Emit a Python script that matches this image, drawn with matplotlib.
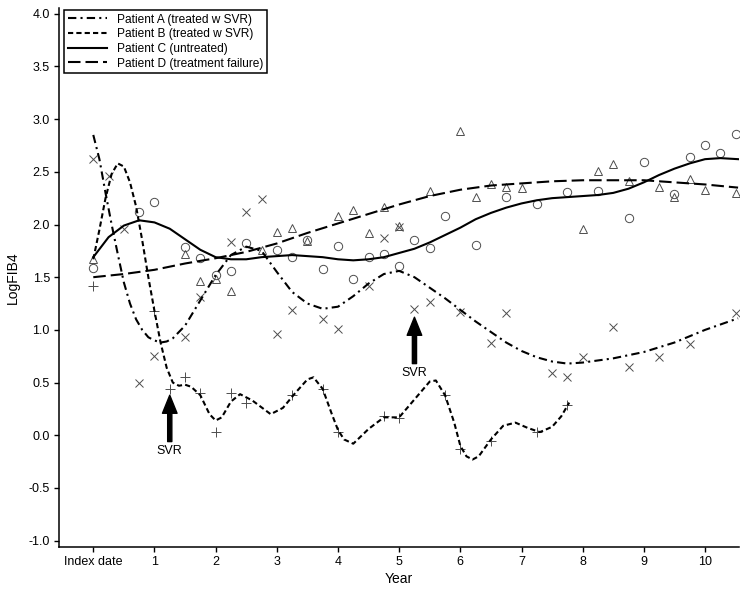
import matplotlib
matplotlib.use("Agg")
import matplotlib.pyplot as plt

plt.rcParams["font.family"] = ["Liberation Sans", "DejaVu Sans"]

# observed LogFIB4 values (markers)
a_years = [0, 0.25, 0.5, 0.75, 1.0, 1.5, 1.75, 2.25, 2.5, 2.75, 3.0, 3.25, 3.75, 4.0,
           4.5, 4.75, 5.0, 5.25, 5.5, 6.0, 6.5, 6.75, 7.5, 7.75, 8.0, 8.5, 8.75,
           9.25, 9.75, 10.5]
a_values = [2.62, 2.46, 1.96, 0.50, 0.75, 0.93, 1.31, 1.83, 2.12, 2.24, 0.96, 1.19, 1.10,
            1.01, 1.42, 1.87, 1.98, 1.20, 1.26, 1.17, 0.88, 1.16, 0.59, 0.55, 0.74,
            1.03, 0.65, 0.74, 0.87, 1.16]

b_years = [0, 1.0, 1.25, 1.5, 1.75, 2.0, 2.25, 2.5, 3.25, 3.75, 4.0, 4.75, 5.0, 5.75,
           6.0, 6.5, 7.25, 7.75]
b_values = [1.42, 1.18, 0.44, 0.55, 0.40, 0.03, 0.40, 0.31, 0.38, 0.44, 0.03, 0.18, 0.16,
            0.38, -0.13, -0.05, 0.03, 0.29]

c_years = [0, 0.75, 1.0, 1.5, 1.75, 2.0, 2.25, 2.5, 3.0, 3.25, 3.5, 3.75, 4.0, 4.25,
           4.5, 4.75, 5.0, 5.25, 5.5, 5.75, 6.25, 6.75, 7.25, 7.75, 8.25, 8.75, 9.0,
           9.5, 9.75, 10.0, 10.25, 10.5]
c_values = [1.59, 2.12, 2.21, 1.79, 1.68, 1.52, 1.56, 1.82, 1.76, 1.69, 1.85, 1.58, 1.80,
            1.48, 1.69, 1.72, 1.61, 1.85, 1.78, 2.08, 1.81, 2.26, 2.19, 2.31, 2.32, 2.06,
            2.59, 2.29, 2.64, 2.75, 2.68, 2.86]

d_years = [0, 1.5, 1.75, 2.0, 2.25, 2.75, 3.0, 3.25, 3.5, 4.0, 4.25, 4.5, 4.75, 5.0,
           5.5, 6.0, 6.25, 6.5, 6.75, 7.0, 8.0, 8.25, 8.5, 8.75, 9.25, 9.5, 9.75,
           10.0, 10.5]
d_values = [1.67, 1.72, 1.46, 1.48, 1.37, 1.76, 1.93, 1.97, 1.84, 2.08, 2.14, 1.92, 2.17,
            1.99, 2.32, 2.89, 2.26, 2.38, 2.36, 2.35, 1.96, 2.51, 2.57, 2.41, 2.36, 2.26,
            2.43, 2.33, 2.30]

# smoothed trajectories
fit_a_years = [0, 0.1, 0.2, 0.3, 0.4, 0.5, 0.6, 0.7, 0.8, 0.9, 1.0, 1.1, 1.2, 1.3, 1.5,
               1.75, 2.0, 2.25, 2.5, 2.75, 3.0, 3.25, 3.5, 3.75, 4.0, 4.25, 4.5, 4.75,
               5.0, 5.25, 5.5, 5.75, 6.0, 6.25, 6.5, 6.75, 7.0, 7.25, 7.5, 7.75, 8.0,
               8.5, 9.0, 9.5, 10.0, 10.54]
fit_a_values = [2.85, 2.62, 2.30, 2.00, 1.72, 1.45, 1.25, 1.10, 1.00, 0.93, 0.90, 0.88,
                0.89, 0.92, 1.04, 1.28, 1.52, 1.71, 1.79, 1.75, 1.55, 1.36, 1.25, 1.20,
                1.22, 1.32, 1.44, 1.53, 1.56, 1.50, 1.40, 1.30, 1.19, 1.08, 0.98, 0.88,
                0.80, 0.74, 0.70, 0.68, 0.69, 0.73, 0.79, 0.88, 1.00, 1.11]

fit_b_years = [0, 0.1, 0.2, 0.3, 0.4, 0.5, 0.6, 0.7, 0.8, 0.9, 1.0, 1.1, 1.2, 1.3, 1.4,
               1.5, 1.6, 1.75, 1.9, 2.0, 2.1, 2.25, 2.4, 2.6, 2.9, 3.1, 3.3, 3.5, 3.6,
               3.75, 3.9, 4.0, 4.1, 4.25, 4.5, 4.75, 5.0, 5.25, 5.5, 5.6, 5.75, 5.9,
               6.0, 6.1, 6.2, 6.3, 6.5, 6.7, 6.9, 7.1, 7.3, 7.5, 7.65, 7.78]
fit_b_values = [1.67, 1.95, 2.25, 2.48, 2.58, 2.55, 2.40, 2.17, 1.85, 1.50, 1.18, 0.88,
                0.64, 0.50, 0.47, 0.48, 0.46, 0.38, 0.20, 0.14, 0.17, 0.32, 0.39, 0.33,
                0.20, 0.26, 0.40, 0.53, 0.55, 0.44, 0.20, 0.05, -0.04, -0.08, 0.06, 0.17,
                0.17, 0.34, 0.51, 0.52, 0.38, 0.12, -0.10, -0.20, -0.23, -0.20, -0.04,
                0.09, 0.12, 0.07, 0.03, 0.08, 0.18, 0.31]

fit_c_years = [0, 0.25, 0.5, 0.75, 1.0, 1.25, 1.5, 1.75, 2.0, 2.25, 2.5, 2.75, 3.0, 3.25,
               3.5, 3.75, 4.0, 4.25, 4.5, 4.75, 5.0, 5.25, 5.5, 5.75, 6.0, 6.25, 6.5,
               6.75, 7.0, 7.25, 7.5, 7.75, 8.0, 8.25, 8.5, 8.75, 9.0, 9.25, 9.5, 9.75,
               10.0, 10.25, 10.54]
fit_c_values = [1.69, 1.88, 1.99, 2.04, 2.02, 1.96, 1.86, 1.76, 1.69, 1.67, 1.67, 1.69,
                1.70, 1.71, 1.70, 1.69, 1.67, 1.66, 1.67, 1.69, 1.73, 1.77, 1.83, 1.90,
                1.97, 2.05, 2.11, 2.16, 2.20, 2.23, 2.25, 2.26, 2.27, 2.28, 2.30, 2.34,
                2.40, 2.47, 2.53, 2.58, 2.62, 2.63, 2.62]

fit_d_years = [0, 0.5, 1.0, 1.5, 2.0, 2.5, 3.0, 3.5, 4.0, 4.5, 5.0, 5.5, 6.0, 6.5, 7.0,
               7.5, 8.0, 8.5, 9.0, 9.5, 10.0, 10.54]
fit_d_values = [1.50, 1.53, 1.57, 1.63, 1.68, 1.74, 1.82, 1.92, 2.01, 2.10, 2.19, 2.27,
                2.33, 2.37, 2.39, 2.41, 2.42, 2.42, 2.42, 2.40, 2.38, 2.35]

labels = ["Patient A (treated w SVR)", "Patient B (treated w SVR)",
          "Patient C (untreated)", "Patient D (treatment failure)"]

# SVR annotations: year and value at arrow tip
svr_years = [1.25, 5.25]
svr_tips = [0.38, 1.12]

x_ticks = list(range(11))
x_ticklabels = ["Index date"] + [str(i) for i in range(1, 11)]
y_ticks = [-1.0, -0.5, 0.0, 0.5, 1.0, 1.5, 2.0, 2.5, 3.0, 3.5, 4.0]

fig = plt.figure(figsize=(7.51, 5.97), dpi=100)
ax = fig.add_axes([0.0786, 0.0838, 0.905, 0.902])

mk = dict(linestyle="none", color="0.3", markeredgewidth=0.7)
ax.plot(a_years, a_values, marker="x", markersize=6, **mk)
ax.plot(b_years, b_values, marker="+", markersize=7, **mk)
ax.plot(c_years, c_values, marker="o", markersize=6, markerfacecolor="none", **mk)
ax.plot(d_years, d_values, marker="^", markersize=6, markerfacecolor="none", **mk)

lw = 1.5
ax.plot(fit_a_years, fit_a_values, color="black", lw=lw, dashes=(4, 2, 1, 2), label=labels[0])
ax.plot(fit_b_years, fit_b_values, color="black", lw=lw, dashes=(2.5, 1.5), label=labels[1])
ax.plot(fit_c_years, fit_c_values, color="black", lw=lw, label=labels[2])
ax.plot(fit_d_years, fit_d_values, color="black", lw=lw, dashes=(6, 2.4), label=labels[3])

for yr, tip in zip(svr_years, svr_tips):
    ax.annotate("", xy=(yr, tip), xytext=(yr, tip - 0.44),
                arrowprops=dict(facecolor="black", edgecolor="black", width=3.0,
                                headwidth=10.5, headlength=13, shrink=0))
    ax.text(yr, tip - 0.53, "SVR", ha="center", va="center", fontsize=9)

ax.set_xlim(-0.56, 10.55)
ax.set_ylim(-1.06, 4.05)
ax.set_xticks(x_ticks)
ax.set_xticklabels(x_ticklabels, fontsize=9)
ax.set_yticks(y_ticks)
ax.set_yticklabels([f"{v:.1f}" for v in y_ticks], fontsize=9)
ax.tick_params(direction="out", length=3.6, width=1, pad=3)
ax.set_xlabel("Year", fontsize=10, labelpad=3)
ax.set_ylabel("LogFIB4", fontsize=10, labelpad=6)

for side in ["top", "right"]:
    ax.spines[side].set_visible(False)
for side in ["left", "bottom"]:
    ax.spines[side].set_linewidth(1.1)

leg = ax.legend(loc="upper left", bbox_to_anchor=(0.008, 0.997), fontsize=8.6,
                frameon=True, fancybox=False, edgecolor="black", framealpha=1,
                handlelength=3.3, handletextpad=0.8, labelspacing=0.22,
                borderpad=0.3, borderaxespad=0)
leg.get_frame().set_linewidth(1.1)

fig.savefig("out.png", dpi=100)
